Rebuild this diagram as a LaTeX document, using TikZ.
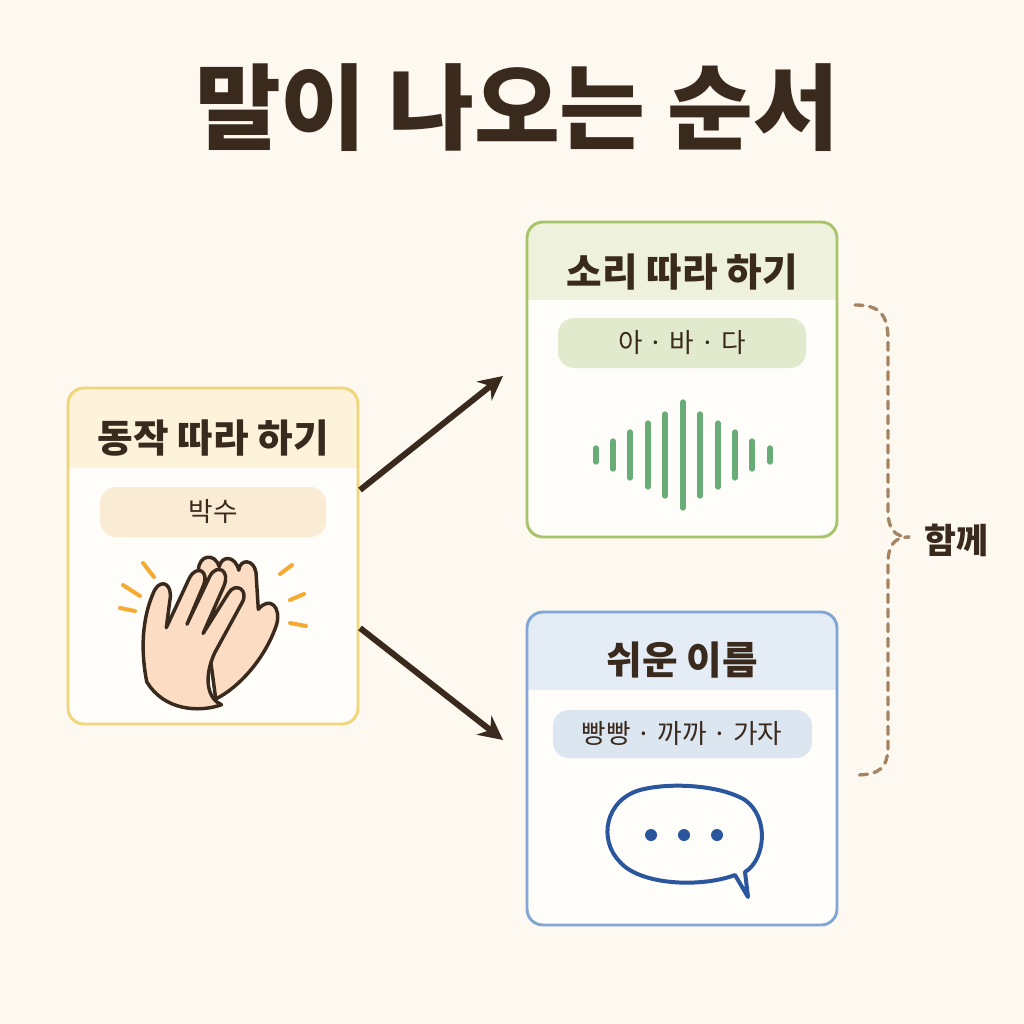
\documentclass[tikz,border=0pt]{standalone}
\usepackage{fontspec}
\newfontfamily\cjk{Noto Sans CJK KR}
\usetikzlibrary{arrows.meta}
\definecolor{bgcream}{RGB}{253,249,240}
\definecolor{ink}{RGB}{58,42,30}
\definecolor{yelline}{RGB}{240,214,122}
\definecolor{yelhead}{RGB}{252,243,218}
\definecolor{yelpill}{RGB}{250,236,212}
\definecolor{grnline}{RGB}{168,196,106}
\definecolor{grnhead}{RGB}{238,242,220}
\definecolor{grnpill}{RGB}{226,234,206}
\definecolor{grnwave}{RGB}{104,172,120}
\definecolor{bluline}{RGB}{128,166,214}
\definecolor{bluhead}{RGB}{228,236,245}
\definecolor{blupill}{RGB}{220,230,240}
\definecolor{bludark}{RGB}{42,86,158}
\definecolor{tan}{RGB}{165,132,100}
\definecolor{skin}{RGB}{252,221,196}
\definecolor{spark}{RGB}{245,170,50}
\tikzset{every picture/.style={line width=0.75pt}}
\tikzset{
  card/.style={rounded corners=12, line width=2.2},
  pill/.style={rounded corners=12, draw=none},
  flow/.style={draw=ink, line width=4.5, -{Stealth[length=18pt,width=18pt]}},
}

\begin{document}
\begin{tikzpicture}[x=0.75pt,y=0.75pt,yscale=-1,xscale=1,font=\cjk]
\fill [bgcream] (0,0) rectangle (1024,1024);

% Title
\node (title) at (517,108) {\fontsize{70}{74}\selectfont\bfseries\color{ink}말이 나오는 순서};

%Card: gestures
\begin{scope}
\clip [rounded corners=12] (68,388) rectangle (358,724);
\fill [white!60!bgcream] (68,388) rectangle (358,724);
\fill [yelhead] (68,388) rectangle (358,468);
\end{scope}
\draw [card, draw=yelline] (68,388) rectangle (358,724);
\node (gesture) at (213,438) {\fontsize{29}{32}\selectfont\bfseries\color{ink}동작 따라 하기};
\fill [pill, fill=yelpill] (100,487) rectangle (326,537);
\node (clap) at (213,512) {\fontsize{20}{24}\selectfont\color{ink}박수};

%Hands
\begin{scope}[shift={(210,630)}, scale=1.15, shift={(-210,-630)}]
\draw [ink, line width=2.6, fill=skin, line join=round]
  (215,690) .. controls (235,680) and (258,655) .. (268,625) .. controls (272,610) and (262,600) .. (252,612)
  -- (250,580) .. controls (248,568) and (236,568) .. (235,578) .. controls (232,565) and (220,565) .. (218,575)
  .. controls (214,562) and (200,565) .. (200,578) -- (215,690);
\draw [ink, line width=2.6, fill=skin, line join=round]
  (155,675) .. controls (150,650) and (150,620) .. (162,595) .. controls (168,585) and (178,590) .. (175,605)
  -- (172,628) -- (192,585) .. controls (198,573) and (210,578) .. (204,592)
  -- (190,625) -- (210,583) .. controls (216,572) and (228,578) .. (222,592)
  -- (204,633) -- (226,598) .. controls (232,588) and (244,595) .. (238,606)
  -- (214,650) .. controls (204,672) and (208,690) .. (220,695) .. controls (200,702) and (170,700) .. (155,675) -- cycle;
\end{scope}
\foreach \a/\b/\c/\d in {120/608/135/611, 123/585/140/596, 143/563/154/577, 280/574/292/565, 290/600/304/594, 290/623/306/626}
  \draw [spark, line width=3, line cap=round] (\a,\b) -- (\c,\d);

%Card: sounds
\begin{scope}
\clip [rounded corners=12] (527,222) rectangle (837,537);
\fill [white!60!bgcream] (527,222) rectangle (837,537);
\fill [grnhead] (527,222) rectangle (837,300);
\end{scope}
\draw [card, draw=grnline] (527,222) rectangle (837,537);
\node (sound) at (682,272) {\fontsize{29}{32}\selectfont\bfseries\color{ink}소리 따라 하기};
\fill [pill, fill=grnpill] (558,318) rectangle (806,368);
\node (abada) at (682,343) {\fontsize{20}{24}\selectfont\color{ink}아 · 바 · 다};
\foreach \x/\h in {596/14, 613/28, 630/46, 648/64, 665/82, 683/106, 700/82, 718/64, 735/46, 752/28, 770/14}
  \draw [grnwave, line width=4, line cap=round] (\x,455-\h/2) -- (\x,455+\h/2);

%Card: easy names
\begin{scope}
\clip [rounded corners=12] (527,612) rectangle (837,925);
\fill [white!60!bgcream] (527,612) rectangle (837,925);
\fill [bluhead] (527,612) rectangle (837,690);
\end{scope}
\draw [card, draw=bluline] (527,612) rectangle (837,925);
\node (names) at (682,660) {\fontsize{29}{32}\selectfont\bfseries\color{ink}쉬운 이름};
\fill [pill, fill=blupill] (553,710) rectangle (812,758);
\node (words) at (682,734) {\fontsize{20}{24}\selectfont\color{ink}빵빵 · 까까 · 가자};
\draw [bludark, line width=3, line join=round]
  (735,875) .. controls (700,888) and (640,885) .. (620,862) .. controls (598,840) and (605,800) .. (640,790)
  .. controls (670,782) and (720,785) .. (745,800) .. controls (770,818) and (765,860) .. (745,872)
  -- (748,897) -- cycle;
\foreach \x in {651,684,717}
  \fill [bludark] (\x,835) circle (6);

% Connectors
\coordinate (gs) at (360,490);
\coordinate (gn) at (360,628);
\coordinate (st) at (503,376);
\coordinate (nt) at (503,740);
\draw [flow] (gs) -- (st);
\draw [flow] (gn) -- (nt);

% Brace
\draw [tan, line width=2.5, dash pattern=on 6pt off 5pt, line cap=round]
  (855,305) .. controls (880,305) and (888,315) .. (888,340) -- (888,510)
  .. controls (888,530) and (895,537) .. (910,537) .. controls (895,537) and (888,544) .. (888,564)
  -- (888,745) .. controls (888,768) and (880,775) .. (855,775);
\node (together) [anchor=west] at (920,540) {\fontsize{26}{30}\selectfont\bfseries\color{ink}함께};
\end{tikzpicture}
\end{document}
